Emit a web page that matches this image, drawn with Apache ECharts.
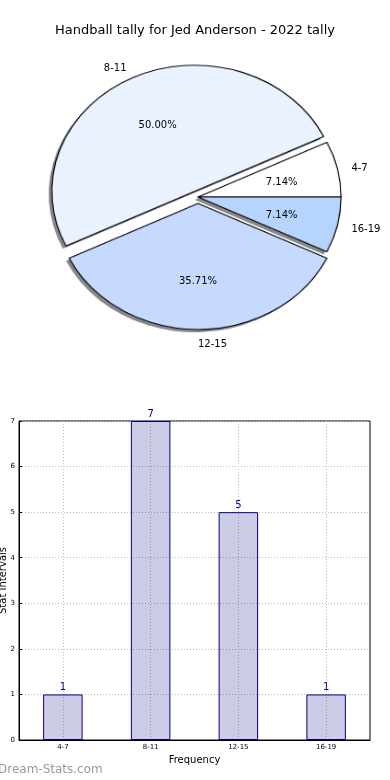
<!DOCTYPE html>
<html><head><meta charset="utf-8">
<script src="https://cdn.jsdelivr.net/npm/echarts@6/dist/echarts.min.js"></script>
<style>
html,body{margin:0;padding:0;background:#fff}
#wrap{position:relative;width:390px;height:780px}
#c{position:absolute;left:0;top:0;width:390px;height:780px;z-index:2}
#p{position:absolute;left:0;top:0;width:390px;height:400px;z-index:1;transform-origin:198px 197px;transform:scale(1.044,0.92)}
</style>
</head><body><div id="wrap"><div id="p"></div><div id="c"></div></div>
<script>
var titleText = 'Handball tally for Jed Anderson - 2022 tally';
var categories = ['4-7', '8-11', '12-15', '16-19'];
var counts = [1, 7, 5, 1];
var pieColors = ['#ffffff', '#eaf1ff', '#c6d9ff', '#b5d5ff'];
var exploded = [false, true, true, false];
var yTicks = [0, 1, 2, 3, 4, 5, 6, 7];

var total = counts.reduce(function (a, b) { return a + b; }, 0);
var F = 'DejaVu Sans, sans-serif';
var cx = 198, cy = 197, R = 137, SX = 1.044, SY = 0.92, EXPLODE = 7, LABEL_DY = 2;

function pieData(extra) {
  return categories.map(function (c, i) {
    var d = { name: c, value: counts[i], selected: exploded[i] };
    if (extra) extra(d, i);
    return d;
  });
}
var clear = { color: 'transparent', borderColor: 'transparent', borderWidth: 0, shadowBlur: 0, shadowColor: 'transparent' };
var pieBase = { type: 'pie', startAngle: 0, clockwise: false, selectedMode: 'multiple', selectedOffset: EXPLODE, silent: true, labelLine: { show: false }, emphasis: { disabled: true } };
function pie(o) { return Object.assign({}, pieBase, o); }

// mid angle of each wedge (counter-clockwise from 3 o'clock), from the data
function midAngle(i) {
  var before = 0;
  for (var k = 0; k < i; k++) before += counts[k];
  return (before + counts[i] / 2) / total * Math.PI * 2;
}
// label placed at fraction f of the radius along the wedge's mid angle, on the same ellipse as the wedges
function ellipseLayout(f, sideAlign) {
  return function (p) {
    var i = p.dataIndex, a = midAngle(i);
    var rho = f * R + (exploded[i] ? EXPLODE : 0);
    var dx = Math.cos(a), dy = -Math.sin(a);
    var out = { x: cx + dx * rho * SX, y: cy + LABEL_DY + dy * rho * SY, verticalAlign: 'middle', align: 'center' };
    if (sideAlign) out.align = dx >= -1e-6 ? 'left' : 'right';
    return out;
  };
}

// pie wedges (drawn in an elliptically scaled container)
var pieChart = echarts.init(document.getElementById('p'), null, { renderer: 'canvas' });
pieChart.setOption({
  animation: false,
  series: [
    pie({ center: [cx - 3, cy + 3], radius: [0, R], z: 1,
      itemStyle: { color: '#888888', borderWidth: 0 }, label: { show: false }, data: pieData() }),
    pie({ center: [cx, cy], radius: [0, R], z: 2,
      itemStyle: { borderColor: '#000', borderWidth: 1.1 },
      label: { show: false },
      data: pieData(function (d, i) { d.itemStyle = { color: pieColors[i] }; }) })
  ]
});

function plainData() { return categories.map(function (c, i) { return { name: c, value: counts[i] }; }); }

var chart = echarts.init(document.getElementById('c'), null, { renderer: 'canvas' });
chart.setOption({
  animation: false,
  title: { text: titleText, left: 'center', top: 19, textStyle: { fontFamily: F, fontSize: 13, fontWeight: 'normal', color: '#000' } },
  graphic: [{ type: 'text', left: -2, top: 764, style: { text: 'Dream-Stats.com', fontFamily: F, fontSize: 12, fill: '#9a9a9a' } }],
  grid: { left: 19, right: 20, top: 421, bottom: 40, show: true, borderColor: '#000', borderWidth: 1, outerBoundsMode: 'none', containLabel: false },
  xAxis: {
    type: 'category', data: categories, name: 'Frequency', nameLocation: 'middle', nameGap: 15,
    nameTextStyle: { fontFamily: F, fontSize: 10, color: '#000' },
    axisLine: { lineStyle: { color: '#000' } },
    axisTick: { alignWithLabel: true, inside: true, length: 3, lineStyle: { color: '#000' } },
    axisLabel: { fontFamily: F, fontSize: 7, color: '#000', margin: 4 },
    splitLine: { show: true, alignWithLabel: true, lineStyle: { color: '#bbbbbb', type: [1, 2] } }
  },
  yAxis: {
    type: 'value', min: 0, max: 7, interval: 1, name: 'Stat Intervals', nameLocation: 'middle', nameGap: 10.5,
    nameMoveOverlap: false,
    nameTextStyle: { fontFamily: F, fontSize: 10, color: '#000' },
    axisLine: { show: true, lineStyle: { color: '#000' } },
    axisTick: { show: true, inside: true, length: 3, lineStyle: { color: '#000' } },
    axisLabel: { fontFamily: F, fontSize: 7, color: '#000', margin: 4, formatter: function (v) { return yTicks.indexOf(v) >= 0 ? String(v) : ''; } },
    splitLine: { show: true, lineStyle: { color: '#bbbbbb', type: [1, 2] } }
  },
  series: [
    pie({ center: [cx, cy], radius: [0, R], z: 3, itemStyle: clear,
      label: { show: true, position: 'inside', fontFamily: F, fontSize: 10, color: '#000',
        formatter: function (p) { return (p.value / total * 100).toFixed(2) + '%'; } },
      labelLayout: ellipseLayout(0.6, false),
      data: plainData() }),
    pie({ center: [cx, cy], radius: [0, R], z: 3, itemStyle: clear,
      label: { show: true, position: 'inside', fontFamily: F, fontSize: 10, color: '#000', formatter: '{b}' },
      labelLayout: ellipseLayout(1.1, true),
      data: plainData() }),
    {
      type: 'bar', data: counts, barWidth: '45%',
      itemStyle: { color: 'rgba(0,0,128,0.2)', borderColor: '#000080', borderWidth: 1 },
      label: { show: true, position: 'top', distance: 2, fontFamily: F, fontSize: 10, color: '#000080' }
    }
  ]
});
</script></body></html>
